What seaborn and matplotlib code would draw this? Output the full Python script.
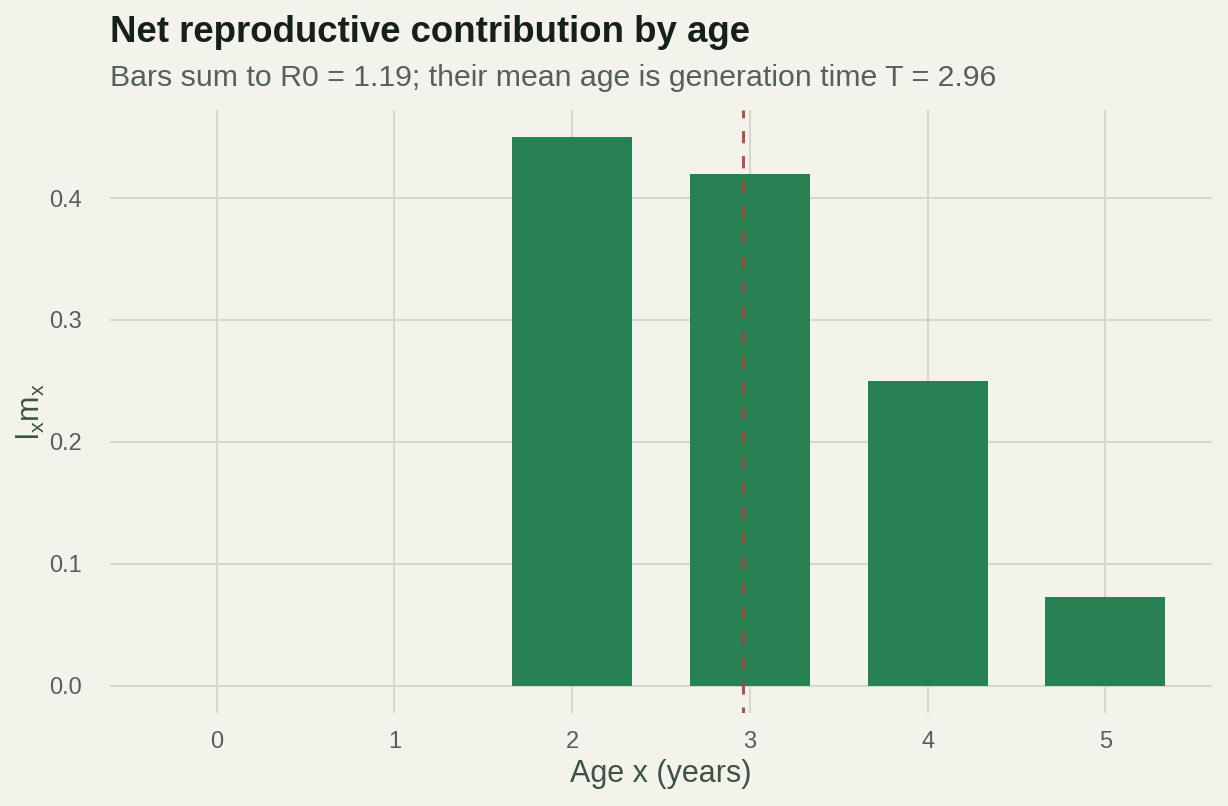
import matplotlib
matplotlib.use("Agg")
import matplotlib.pyplot as plt
import seaborn as sns
import pandas as pd

# life table contributions l(x) * m(x)
ages = [0, 1, 2, 3, 4, 5]
lxmx = [0.0, 0.0, 0.45, 0.42, 0.25, 0.073]

# summary values as stated in the subtitle
R0 = 1.19
T = 2.96

bg = "#f3f2eb"
grid_col = "#d8d8c6"
bar_col = "#288152"
line_col = "#a8403f"
tick_col = "#56605a"
label_col = "#3b5444"

sns.set_theme(style="whitegrid")
plt.rcParams['font.family'] = ['Liberation Sans', 'DejaVu Sans']
plt.rcParams['mathtext.default'] = 'regular'

df = pd.DataFrame({'age': ages, 'lxmx': lxmx})

fig, ax = plt.subplots(figsize=(12.28, 8.06), dpi=100)
fig.patch.set_facecolor(bg)
ax.set_facecolor(bg)

sns.barplot(data=df, x='age', y='lxmx', color=bar_col, width=0.675,
            saturation=1, linewidth=0, ax=ax, zorder=2)
ax.axvline(T, color=line_col, linestyle=(2, (4, 4.2)), linewidth=2.2,
           alpha=0.9, zorder=3)

ax.set_xlim(-0.6, 5.6)
ax.set_ylim(-0.0225, 0.4725)
ax.set_yticks([0.0, 0.1, 0.2, 0.3, 0.4])
ax.set_yticklabels(['0.0', '0.1', '0.2', '0.3', '0.4'])

ax.grid(True, axis='both', color=grid_col, linewidth=1.5, zorder=0)
ax.set_axisbelow(True)
for s in ax.spines.values():
    s.set_visible(False)
ax.tick_params(axis='both', length=0, labelsize=17, colors=tick_col, pad=13)
ax.tick_params(axis='y', pad=20)

ax.set_xlabel('Age x (years)', fontsize=22, color=label_col, labelpad=4)
ax.set_ylabel('$l_x m_x$', fontsize=22, color=label_col, labelpad=2)

fig.text(0.0896, 0.96, 'Net reproductive contribution by age', fontsize=26.4,
         fontweight='bold', color='#16201a', va='center')
fig.text(0.0896, 0.903, f'Bars sum to R0 = {R0:.2f}; their mean age is generation time T = {T:.2f}',
         fontsize=21.8, color='#56605a', va='center')

fig.subplots_adjust(left=0.0896, right=0.987, top=0.864, bottom=0.115)
fig.savefig('out.png', dpi=100, facecolor=bg)
